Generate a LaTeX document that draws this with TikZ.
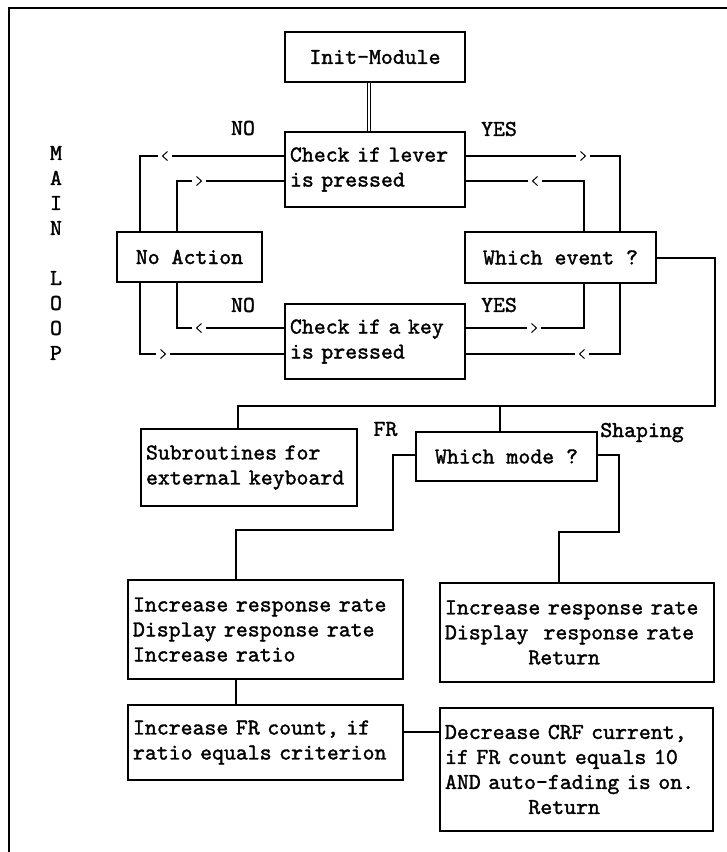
\documentclass[tikz,border=0pt]{standalone}
\usepackage{fontspec}
\newfontfamily\myttfam{lmmono10-regular.otf}[FakeBold=1.5]
\newcommand\mytt{\myttfam\fontsize{22.7}{25}\selectfont}
\tikzset{
  ln/.style={line width=1.2pt},
  box/.style={draw, line width=1.2pt, inner ysep=0pt, inner xsep=5pt, font=\mytt},
  lbl/.style={font=\mytt, inner sep=0pt},
  chevl/.style={fill=white, inner sep=0pt, minimum width=14pt, minimum height=12pt,
    path picture={\draw[line width=1pt] ([shift={(2.5pt,-4.5pt)}]path picture bounding box.center) -- ++(-5pt,4.5pt) -- ++(5pt,4.5pt);}},
  chevr/.style={fill=white, inner sep=0pt, minimum width=14pt, minimum height=12pt,
    path picture={\draw[line width=1pt] ([shift={(-2.5pt,-4.5pt)}]path picture bounding box.center) -- ++(5pt,4.5pt) -- ++(-5pt,4.5pt);}},
  dbl/.style={double, double distance=1.1pt, line width=1.1pt}
}
\begin{document}
\begin{tikzpicture}[x=1pt,y=-1pt]
\useasboundingbox (0,0) rectangle (727,852);
% frame
\draw[line width=1.5pt] (9,852) -- (9,8) -- (727,8);

% boxes
\node[box, align=center, minimum width=180pt, minimum height=50pt] (init) at (375,57) {Init-Module};
\node[box, align=left, text width=170pt, minimum height=75pt] (lever) at (375,169.5) {Check if lever\\is pressed};
\node[box, align=center, minimum width=145pt, minimum height=50pt] (noact) at (189.5,257) {No Action};
\node[box, align=center, minimum width=191pt, minimum height=51pt] (event) at (560.5,257.5) {Which event ?};
\node[box, align=left, text width=170pt, minimum height=75pt] (key) at (375,341.5) {Check if a key\\is pressed};
\node[box, align=left, text width=206pt, minimum height=77pt] (sub) at (249,467.5) {Subroutines for\\external keyboard};
\node[box, align=center, minimum width=181pt, minimum height=49pt] (mode) at (506.5,456.5) {Which mode ?};
\node[box, align=left, text width=265pt, minimum height=99pt] (fr) at (265.5,629.5) {Increase response rate\\Display response rate\\Increase ratio};
\node[box, align=left, text width=264pt, minimum height=99pt] (shp) at (577,632.5) {Increase response rate\\Display~ response rate\\\phantom{xxxxxxx}Return};
\node[box, align=left, text width=265pt, minimum height=75pt] (cnt) at (265.5,742.5) {Increase FR count, if\\ratio equals criterion};
\node[box, align=left, text width=263pt, minimum height=123pt] (dec) at (576.5,769.5) {Decrease CRF current,\\if FR count equals 10\\AND auto-fading is on.\\\phantom{xxxxxxx}Return};

% labels
\node[lbl] (no1) at (243,128) {NO};
\node[lbl] (yes1) at (499,129) {YES};
\node[lbl] (no2) at (243,305) {NO};
\node[lbl] (yes2) at (499,305) {YES};
\node[lbl] (frl) at (385.5,429) {FR};
\node[lbl, anchor=base] (shl) at (642,437) {Shaping};
\node[lbl, align=center] (mainloop) at (56,253) {M\\A\\I\\N\\~\\L\\O\\O\\P};

% coordinates
\coordinate (dl) at (369,100);
\coordinate (lvo) at (140,156);
\coordinate (lvi) at (177,181);
\coordinate (rvo) at (620,156);
\coordinate (rvi) at (584,181);
\coordinate (kli) at (177,328);
\coordinate (klo) at (140,354);
\coordinate (kri) at (584,328);
\coordinate (kro) at (620,354);
\coordinate (eb) at (715,258);
\coordinate (bus) at (715,406);
\coordinate (bl) at (238,406);
\coordinate (bm) at (500,406);
\coordinate (ml) at (393,455);
\coordinate (ml2) at (393,530);
\coordinate (ml3) at (236,530);
\coordinate (mr) at (619,455);
\coordinate (mr2) at (619,532);
\coordinate (mr3) at (559,532);
\coordinate (fc) at (236,690);
\coordinate (cd) at (420,732);

% connectors
\draw[dbl] (init.south -| dl) -- (lever.north -| dl);
\draw[ln] (lever.west |- lvo) -- (lvo) -- (lvo |- noact.north);
\draw[ln] (lever.west |- lvi) -- (lvi) -- (lvi |- noact.north);
\draw[ln] (lever.east |- rvo) -- (rvo) -- (rvo |- event.north);
\draw[ln] (lever.east |- rvi) -- (rvi) -- (rvi |- event.north);
\draw[ln] (kli |- noact.south) -- (kli) -- (key.west |- kli);
\draw[ln] (klo |- noact.south) -- (klo) -- (key.west |- klo);
\draw[ln] (kri |- event.south) -- (kri) -- (key.east |- kri);
\draw[ln] (kro |- event.south) -- (kro) -- (key.east |- kro);
\draw[ln] (event.east |- eb) -- (eb) -- (bus) -- (bl) -- (bl |- sub.north);
\draw[ln] (bm) -- (bm |- mode.north);
\draw[ln] (mode.west |- ml) -- (ml) -- (ml2) -- (ml3) -- (ml3 |- fr.north);
\draw[ln] (mode.east |- mr) -- (mr) -- (mr2) -- (mr3) -- (mr3 |- shp.north);
\draw[ln] (fr.south -| fc) -- (cnt.north -| fc);
\draw[ln] (cnt.east |- cd) -- (dec.west |- cd);

% direction marks
\node[chevl] (c1) at (165,156) {};
\node[chevr] (c2) at (199,181) {};
\node[chevr] (c3) at (583,156) {};
\node[chevl] (c4) at (535,181) {};
\node[chevl] (c5) at (199,328) {};
\node[chevr] (c6) at (163,354) {};
\node[chevr] (c7) at (534,328) {};
\node[chevl] (c8) at (582,354) {};
\end{tikzpicture}
\end{document}
